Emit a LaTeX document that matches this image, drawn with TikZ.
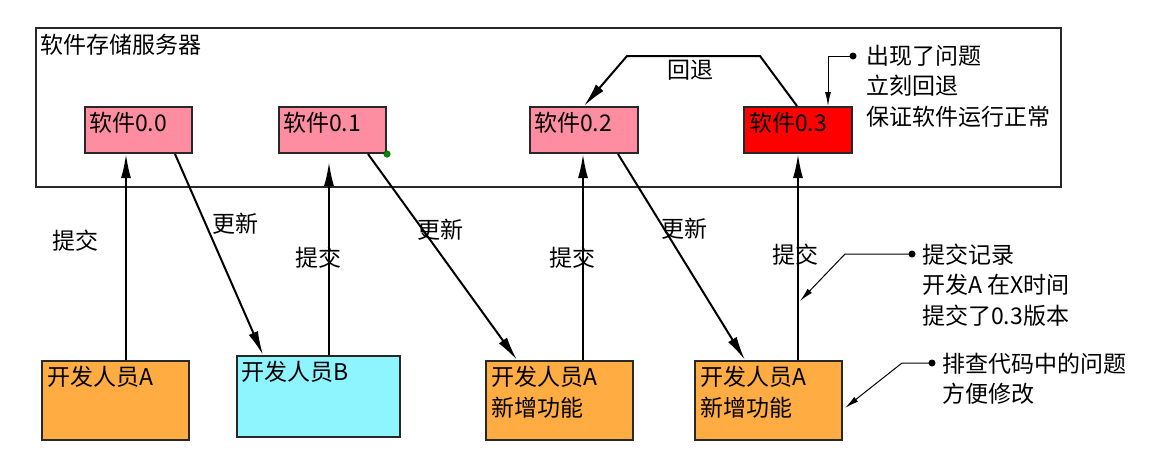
\documentclass[tikz,border=0pt]{standalone}
\usepackage{fontspec}
\setmainfont{Noto Sans CJK SC}
\usetikzlibrary{arrows.meta,calc}
\definecolor{pinkbox}{RGB}{255,141,161}
\definecolor{redbox}{RGB}{255,0,0}
\definecolor{orangebox}{RGB}{255,173,66}
\definecolor{cyanbox}{RGB}{142,245,255}
\definecolor{edge}{RGB}{40,40,40}
\begin{document}
\begin{tikzpicture}[x=1pt,y=-1pt,
  font=\fontsize{23}{30.5}\selectfont,
  box/.style={draw=edge, line width=2pt, anchor=north west, inner sep=0pt},
  verbox/.style={box, minimum width=107, minimum height=46},
  devbox/.style={box, fill=orangebox, minimum width=147, minimum height=79},
  lbl/.style={inner sep=0pt},
  btxt/.style={inner sep=0pt, anchor=west},
  arr/.style={line width=2pt, -{Latex[length=24pt,width=10pt]}},
  callout/.style={line width=1pt, -{Latex[length=14pt,width=6pt]}},
  dotmark/.style={circle, fill=black, inner sep=0pt, minimum size=7pt}
]
\useasboundingbox (0,0) rectangle (1153,453);

% server
\node[box, minimum width=1025, minimum height=159] (srv) at (35,27) {};
\node[btxt] (title) at (40,45) {软件存储服务器};

% versions
\node[verbox, fill=pinkbox] (v0) at (84,106) {};
\node[btxt] (t0) at ($(v0.north west)+(5,17)$) {软件0.0};
\node[verbox, fill=pinkbox] (v1) at (278,106) {};
\node[btxt] (t1) at ($(v1.north west)+(5,17)$) {软件0.1};
\node[verbox, fill=pinkbox, minimum width=108] (v2) at (529,106) {};
\node[btxt] (t2) at ($(v2.north west)+(5,17)$) {软件0.2};
\node[verbox, fill=redbox, minimum width=108] (v3) at (743,106) {};
\node[btxt] (t3) at ($(v3.north west)+(6,17)$) {软件0.3};
\node[circle, fill=green!55!black, draw=green!35!black, line width=0.5pt, inner sep=0pt, minimum size=6.5pt] (gdot) at (v1.south east) {};

% developers
\node[devbox, minimum width=147] (dA) at (41,360) {};
\node[btxt] (tA) at ($(dA.north west)+(6,17)$) {开发人员A};
\node[box, fill=cyanbox, minimum width=163, minimum height=81] (dB) at (236,355) {};
\node[btxt] (tB) at ($(dB.north west)+(5,17)$) {开发人员B};
\node[devbox] (d3) at (485,360) {};
\node[btxt] (t3a) at ($(d3.north west)+(6,17)$) {开发人员A};
\node[btxt] (t3b) at ($(d3.north west)+(6,48)$) {新增功能};
\node[devbox] (d4) at (694,360) {};
\node[btxt] (t4a) at ($(d4.north west)+(6,17)$) {开发人员A};
\node[btxt] (t4b) at ($(d4.north west)+(6,48)$) {新增功能};

% arrows
\draw[arr] ($(dA.north west)+(85,0)$) -- ($(v0.south west)+(42,0)$);
\draw[arr] ($(v0.south west)+(91,0)$) -- ($(dB.north west)+(27,0)$);
\draw[arr] ($(dB.north west)+(93,0)$) -- ($(v1.south west)+(51,8)$);
\draw[arr] ($(v1.south west)+(90,0)$) -- ($(d3.north west)+(32,0)$);
\draw[arr] ($(d3.north west)+(98,0)$) -- ($(v2.south west)+(54,0)$);
\draw[arr] ($(v2.south west)+(89,0)$) -- ($(d4.north west)+(51,0)$);
\draw[arr] ($(d4.north west)+(104,0)$) -- ($(v3.south west)+(55,0)$);

\coordinate (rbR) at (760,56);
\coordinate (rbL) at (627,56);
\draw[arr] ($(v3.north west)+(54,0)$) -- (rbR) -- (rbL) -- ($(v2.north west)+(55,0)$);

% labels
\node[lbl] (l1) at (75,241) {提交};
\node[lbl] (l2) at (235,224) {更新};
\node[lbl] (l3) at (318,258) {提交};
\node[lbl] (l4) at (440,230) {更新};
\node[lbl] (l5) at (572,258) {提交};
\node[lbl] (l6) at (684,229) {更新};
\node[lbl] (l7) at (795,255) {提交};
\node[lbl] (l8) at (690,70) {回退};

% callouts
\node[dotmark] (c1) at (853,56) {};
\coordinate (c1k) at (828,56);
\draw[callout] (c1.center) -- (c1k) -- ($(v3.north west)+(85,0)$);
\node[btxt, align=left] (c1t) at (866,86) {出现了问题\\立刻回退\\保证软件运行正常};

\node[dotmark] (c2) at (912,254) {};
\coordinate (c2k) at (845,254);
\coordinate (c2tip) at ($(d4.north west)+(106,-59)$);
\draw[callout] (c2.center) -- (c2k) -- (c2tip);
\node[btxt, align=left] (c2t) at (922,285) {提交记录\\开发A 在X时间\\提交了0.3版本};

\node[dotmark] (c3) at (932,363) {};
\coordinate (c3k) at (902,363);
\draw[callout] (c3.center) -- (c3k) -- ($(d4.north east)+(2,48)$);
\node[btxt, align=left] (c3t) at (942,379) {排查代码中的问题\\方便修改};
\end{tikzpicture}
\end{document}
